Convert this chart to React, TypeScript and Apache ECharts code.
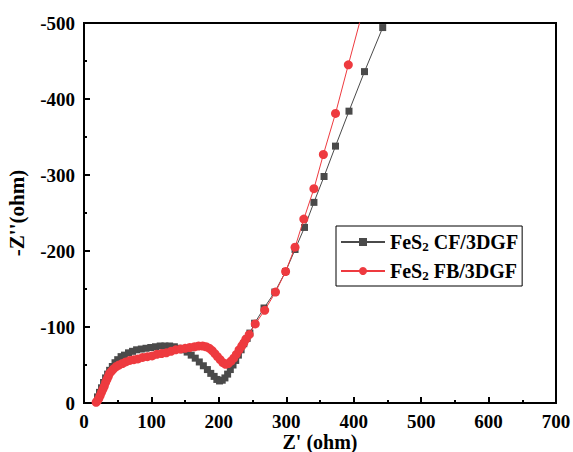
import React, { useEffect, useRef } from "react";
import * as echarts from "echarts";

const seriesNames = ["FeS2 CF/3DGF", "FeS2 FB/3DGF"];

const cfData: number[][] = [
  [20, 8], [23, 14], [26, 20], [29, 27], [32, 33], [35, 38], [38, 43], [42, 48], [46, 53], [50, 57],
  [55, 61], [60, 63], [66, 66], [72, 68], [78, 70], [85, 71], [92, 72], [99, 73], [106, 74], [113, 75],
  [120, 75], [127, 75], [134, 74], [141, 72], [147, 70], [153, 67], [159, 63], [165, 59], [171, 54],
  [177, 49], [183, 44], [188, 39], [193, 35], [197, 31], [201, 29], [205, 30], [209, 33], [213, 38],
  [217, 44], [221, 50], [225, 56], [229, 63], [233, 70], [237, 78], [242, 85], [246, 92], [253, 105],
  [267, 125], [283, 146], [299, 173], [313, 202], [327, 231], [341, 264], [356, 298], [373, 338],
  [393, 384], [416, 436], [443, 494],
];

const fbData: number[][] = [
  [18, 1], [20, 3], [22, 6], [24, 10], [26, 14], [28, 18], [30, 22], [32, 27], [34, 31], [36, 35],
  [38, 39], [41, 42], [44, 45], [48, 48], [52, 50], [57, 52], [62, 54], [68, 56], [74, 57], [80, 58],
  [87, 60], [94, 61], [101, 62], [108, 64], [115, 65], [122, 66], [129, 68], [136, 70], [143, 71],
  [150, 72], [157, 73], [164, 74], [170, 75], [176, 75], [181, 74], [186, 72], [190, 69], [194, 65],
  [198, 61], [202, 57], [206, 53], [210, 51], [214, 52], [218, 55], [222, 59], [226, 64], [230, 70],
  [234, 75], [237, 79], [240, 84], [245, 90], [254, 104], [268, 122], [284, 146], [299, 173],
  [313, 205], [326, 242], [341, 282], [355, 327], [373, 381], [392, 445], [414, 518],
];

const xTicks = { min: 0, max: 700, interval: 100 };
const yTicks = { min: 0, max: 500, interval: 100 };

const FONT = "Liberation Serif";

export default function App() {
  const ref = useRef<HTMLDivElement>(null);
  useEffect(() => {
    if (!ref.current) return;
    const chart = echarts.init(ref.current, undefined, { renderer: "svg" });
    const axisCommon = {
      axisLine: { show: true, lineStyle: { color: "#000", width: 2 } },
      axisTick: { show: true, inside: true, length: 6, lineStyle: { color: "#000", width: 2 } },
      minorTick: { show: true, splitNumber: 2, length: 3, lineStyle: { color: "#000", width: 2 } },
      splitLine: { show: false },
      axisLabel: { color: "#000", fontFamily: FONT, fontWeight: "bold", fontSize: 19, margin: 9 },
      nameTextStyle: { color: "#000", fontFamily: FONT, fontWeight: "bold", fontSize: 21 },
      nameMoveOverlap: false,
    };
    chart.setOption({
      animation: false,
      backgroundColor: "#fff",
      grid: {
        left: 84, right: 17, top: 23, bottom: 49,
        outerBoundsMode: "none",
        containLabel: false,
        show: true, borderColor: "#000", borderWidth: 2, backgroundColor: "transparent",
      },
      xAxis: {
        type: "value",
        ...xTicks,
        name: "Z' (ohm)",
        nameLocation: "middle",
        nameGap: 29,
        ...axisCommon,
        nameTextStyle: { ...axisCommon.nameTextStyle, fontSize: 20 },
      },
      yAxis: {
        type: "value",
        ...yTicks,
        name: "-Z''(ohm)",
        nameLocation: "middle",
        nameGap: 57,
        ...axisCommon,
        axisLabel: {
          ...axisCommon.axisLabel,
          formatter: (v: number) => (v === 0 ? "0" : "-" + v),
        },
      },
      legend: {
        left: 336,
        top: 226,
        orient: "vertical",
        borderColor: "#000",
        borderWidth: 1,
        borderRadius: 0,
        padding: [6, 4, 4, 4],
        itemGap: 8,
        itemWidth: 44,
        itemHeight: 10,
        data: seriesNames,
        formatter: (name: string) => {
          const rest = name.slice(4);
          return "{a|FeS}{s|2}{a|" + rest + "}";
        },
        textStyle: {
          color: "#000",
          fontFamily: FONT,
          fontWeight: "bold",
          fontSize: 20,
          rich: {
            a: { fontFamily: FONT, fontWeight: "bold", fontSize: 20, color: "#000" },
            s: { fontFamily: FONT, fontWeight: "bold", fontSize: 13, color: "#000", verticalAlign: "bottom", padding: [9, 0, 0, 0] },
          },
        },
      },
      series: [
        {
          name: seriesNames[0],
          type: "line",
          data: cfData,
          symbol: "rect",
          symbolSize: 7,
          itemStyle: { color: "#4a4a4a" },
          lineStyle: { color: "#4a4a4a", width: 1 },
          clip: true,
          z: 2,
        },
        {
          name: seriesNames[1],
          type: "line",
          data: fbData,
          symbol: "circle",
          symbolSize: 9,
          itemStyle: { color: "#ee3a3f" },
          lineStyle: { color: "#ee3a3f", width: 1 },
          clip: true,
          z: 3,
        },
      ],
    });
    return () => chart.dispose();
  }, []);
  return <div ref={ref} style={{ width: 573, height: 452, position: "absolute", left: 0, top: 0 }} />;
}
